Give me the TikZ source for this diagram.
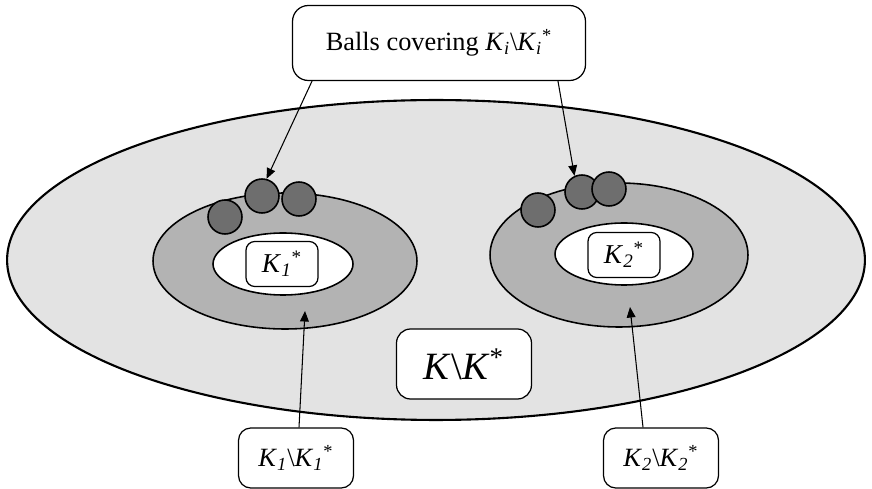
\documentclass[tikz,border=0pt]{standalone}
\usepackage{fontspec}
\setmainfont{Liberation Serif}
\usetikzlibrary{shapes.geometric,arrows.meta}
\definecolor{outergray}{HTML}{E3E3E3}
\definecolor{ringgray}{HTML}{B3B3B3}
\definecolor{ballgray}{HTML}{6E6E6E}
\newcommand{\Ksub}[1]{\textit{K}\textsubscript{\textit{#1}}}
\begin{document}
\begin{tikzpicture}[x=0.02cm,y=-0.02cm,>={Triangle[length=6pt,width=5pt]},
  set/.style={shape=ellipse, draw, line width=0.9pt, inner sep=0pt},
  ball/.style={shape=circle, draw, line width=0.9pt, fill=ballgray,
    minimum size=0.68cm, inner sep=0pt},
  namebox/.style={shape=rectangle, rounded corners=5pt, draw,
    line width=0.7pt, fill=white, align=center, inner sep=0pt}]
  \useasboundingbox (0,0) rectangle (872,489);
  % the whole set and the two rings
  \node[set, line width=1.2pt, fill=outergray, minimum width=17.16cm, minimum height=6.4cm] (K) at (436,260) {};
  \node[set, fill=ringgray, minimum width=5.28cm, minimum height=2.72cm] (r1) at (285,261) {};
  \node[set, fill=ringgray, minimum width=5.16cm, minimum height=2.88cm] (r2) at (619,255) {};
  \node[set, fill=white, minimum width=2.8cm, minimum height=1.24cm] (c1) at (283,264) {};
  \node[set, fill=white, minimum width=2.76cm, minimum height=1.24cm] (c2) at (624,254) {};
  % covering balls
  \node[ball] (lb1) at (225,217) {};
  \node[ball] (lb2) at (262,196) {};
  \node[ball] (lb3) at (299,199) {};
  \node[ball] (rb1) at (538,210) {};
  \node[ball] (rb2) at (582,192) {};
  \node[ball] (rb3) at (609,189) {};
  % labels
  \node[namebox, minimum width=1.44cm, minimum height=0.9cm] (k1) at (282,264)
    {\fontsize{15.5}{17}\selectfont\Ksub{1}\textsuperscript{*}};
  \node[namebox, minimum width=1.44cm, minimum height=0.9cm] (k2) at (624,255)
    {\fontsize{15.5}{17}\selectfont\Ksub{2}\textsuperscript{*}};
  \node[namebox, minimum width=2.7cm, minimum height=1.4cm, rounded corners=8pt] (kk) at (464,364)
    {\fontsize{22}{24}\selectfont\textit{K}\textbackslash\textit{K}\textsuperscript{*}};
  \node[namebox, minimum width=5.86cm, minimum height=1.5cm, rounded corners=9pt] (balls) at (439,43)
    {\raisebox{2pt}{\fontsize{15}{17}\selectfont Balls covering \Ksub{i}\textbackslash\Ksub{i}\textsuperscript{*}}};
  \node[namebox, minimum width=2.3cm, minimum height=1.2cm, rounded corners=7pt] (d1) at (296,458)
    {\fontsize{15}{17}\selectfont\Ksub{1}\textbackslash\Ksub{1}\textsuperscript{*}};
  \node[namebox, minimum width=2.3cm, minimum height=1.2cm, rounded corners=7pt] (d2) at (661,458)
    {\fontsize{15}{17}\selectfont\Ksub{2}\textbackslash\Ksub{2}\textsuperscript{*}};
  \coordinate (p1) at (305,311);
  \coordinate (p2) at (630,307);
  % pointers
  \draw[->, line width=0.6pt] ([xshift=-2.54cm]balls.south) -- (lb2.75);
  \draw[->, line width=0.6pt] ([xshift=2.38cm]balls.south) -- (rb2.115);
  \draw[->, line width=0.6pt] ([xshift=0.06cm]d1.north) -- (p1);
  \draw[->, line width=0.6pt] ([xshift=-0.36cm]d2.north) -- (p2);
\end{tikzpicture}
\end{document}
